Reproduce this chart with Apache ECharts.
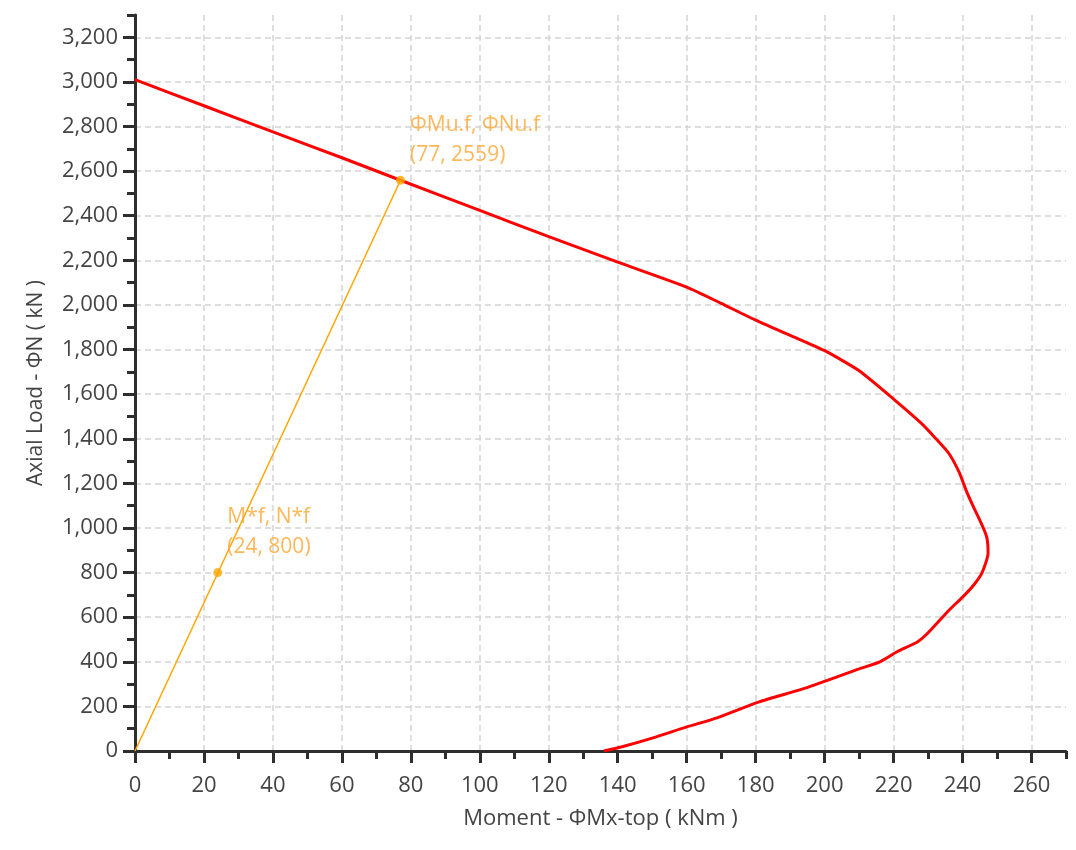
<!DOCTYPE html>
<html>
<head>
<meta charset="utf-8">
<script src="https://cdn.jsdelivr.net/npm/echarts@6/dist/echarts.min.js"></script>
<style>
  html, body { margin: 0; padding: 0; background: #fff; }
  #chart { width: 1076px; height: 850px; }
</style>
</head>
<body>
<div id="chart"></div>
<script>
// Interaction diagram: factored moment capacity vs axial load
const interactionCurve = [
  [0, 3010], [20, 2893], [40, 2776], [60, 2660], [77, 2559], [100, 2424],
  [120, 2306], [140, 2192], [160, 2080], [170, 2007], [180, 1932], [190, 1864],
  [200, 1795], [210, 1705], [220, 1578], [228, 1470], [232, 1405], [236, 1335],
  [239, 1250], [241, 1170], [243, 1100], [245, 1035], [247, 960], [247.4, 887],
  [245.6, 798], [243, 740], [240, 690], [236, 630], [230, 530], [227, 490],
  [221, 445], [216, 400], [209, 363], [201, 318], [193, 275], [181, 220],
  [169, 150], [160, 108], [150, 58], [141, 18], [136, 0]
];

// Design action and the capacity point on the same load ray
const demandPoint = [24, 800];
const capacityPoint = [77, 2559];
const demandName = 'M*f, N*f';
const capacityName = 'ΦMu.f, ΦNu.f';

// Axis ranges and tick values
const momentMax = 270;
const loadMax = 3300;
const momentMajorTicks = [0, 20, 40, 60, 80, 100, 120, 140, 160, 180, 200, 220, 240, 260];
const momentMinorTicks = [10, 30, 50, 70, 90, 110, 130, 150, 170, 190, 210, 230, 250, 270];
const loadMajorTicks = [0, 200, 400, 600, 800, 1000, 1200, 1400, 1600, 1800, 2000, 2200, 2400, 2600, 2800, 3000, 3200];
const loadMinorTicks = [100, 300, 500, 700, 900, 1100, 1300, 1500, 1700, 1900, 2100, 2300, 2500, 2700, 2900, 3100, 3300];

const FONT = 'Open Sans';
const AXIS_COLOR = '#2e2e2e';
const LABEL_COLOR = '#444444';
const ORANGE = '#FFA500';
const ORANGE_TEXT = '#FFA531';

const fmt = v => Number(v).toLocaleString('en-US');

function majorAxis(extra) {
  return Object.assign({
    type: 'value',
    min: 0,
    axisLine: { show: true, onZero: false, lineStyle: { color: AXIS_COLOR, width: 3 } },
    splitLine: { show: true, lineStyle: { color: '#d4d4d4', width: 1.5, type: [6, 4] } },
    nameLocation: 'middle',
    nameTextStyle: { color: LABEL_COLOR, fontFamily: FONT, fontSize: 21 }
  }, extra);
}

function minorAxis(extra) {
  return Object.assign({
    type: 'value',
    min: 0,
    axisLine: { show: false, onZero: false },
    axisLabel: { show: false },
    splitLine: { show: false }
  }, extra);
}

const chart = echarts.init(document.getElementById('chart'), null, { renderer: 'canvas' });

chart.setOption({
  animation: false,
  backgroundColor: '#ffffff',
  grid: { left: 135, right: 10, top: 15, bottom: 99, containLabel: false },
  xAxis: [
    majorAxis({
      position: 'bottom',
      max: momentMax,
      interval: 20,
      name: 'Moment - ΦMx-top ( kNm )',
      nameGap: 57,
      nameTextStyle: { color: LABEL_COLOR, fontFamily: FONT, fontSize: 22 },
      axisTick: { show: true, length: 12, customValues: momentMajorTicks, lineStyle: { color: AXIS_COLOR, width: 3 } },
      axisLabel: { color: LABEL_COLOR, fontFamily: FONT, fontSize: 22, margin: 24, customValues: momentMajorTicks, formatter: fmt }
    }),
    minorAxis({
      position: 'bottom',
      max: momentMax,
      interval: 10,
      axisTick: { show: true, length: 8, customValues: momentMinorTicks, lineStyle: { color: AXIS_COLOR, width: 3 } }
    })
  ],
  yAxis: [
    majorAxis({
      position: 'left',
      max: loadMax,
      interval: 200,
      name: 'Axial Load - ΦN ( kN )',
      nameGap: 88,
      axisTick: { show: true, length: 12, customValues: loadMajorTicks, lineStyle: { color: AXIS_COLOR, width: 3 } },
      axisLabel: { color: LABEL_COLOR, fontFamily: FONT, fontSize: 22, margin: 17, customValues: loadMajorTicks, formatter: fmt }
    }),
    minorAxis({
      position: 'left',
      max: loadMax,
      interval: 100,
      axisTick: { show: true, length: 8, customValues: loadMinorTicks, lineStyle: { color: AXIS_COLOR, width: 3 } }
    })
  ],
  series: [
    {
      name: 'Interaction',
      type: 'line',
      xAxisIndex: 0,
      yAxisIndex: 0,
      data: interactionCurve,
      showSymbol: false,
      smooth: 0.2,
      lineStyle: { color: '#FF0000', width: 3 },
      z: 3
    },
    {
      name: 'Load ray',
      type: 'line',
      xAxisIndex: 0,
      yAxisIndex: 0,
      data: [[0, 0], capacityPoint],
      showSymbol: false,
      lineStyle: { color: ORANGE, width: 1.5 },
      z: 4
    },
    {
      name: 'Points',
      type: 'scatter',
      xAxisIndex: 0,
      yAxisIndex: 0,
      symbolSize: 9,
      itemStyle: { color: ORANGE },
      z: 5,
      data: [
        { name: demandName, value: demandPoint },
        { name: capacityName, value: capacityPoint }
      ],
      label: {
        show: true,
        position: [14, -6],
        align: 'left',
        verticalAlign: 'bottom',
        color: ORANGE_TEXT,
        fontFamily: FONT,
        fontSize: 21,
        lineHeight: 30,
        formatter: p => p.name + '\n(' + p.value[0] + ', ' + p.value[1] + ')'
      }
    }
  ]
});
</script>
</body>
</html>
